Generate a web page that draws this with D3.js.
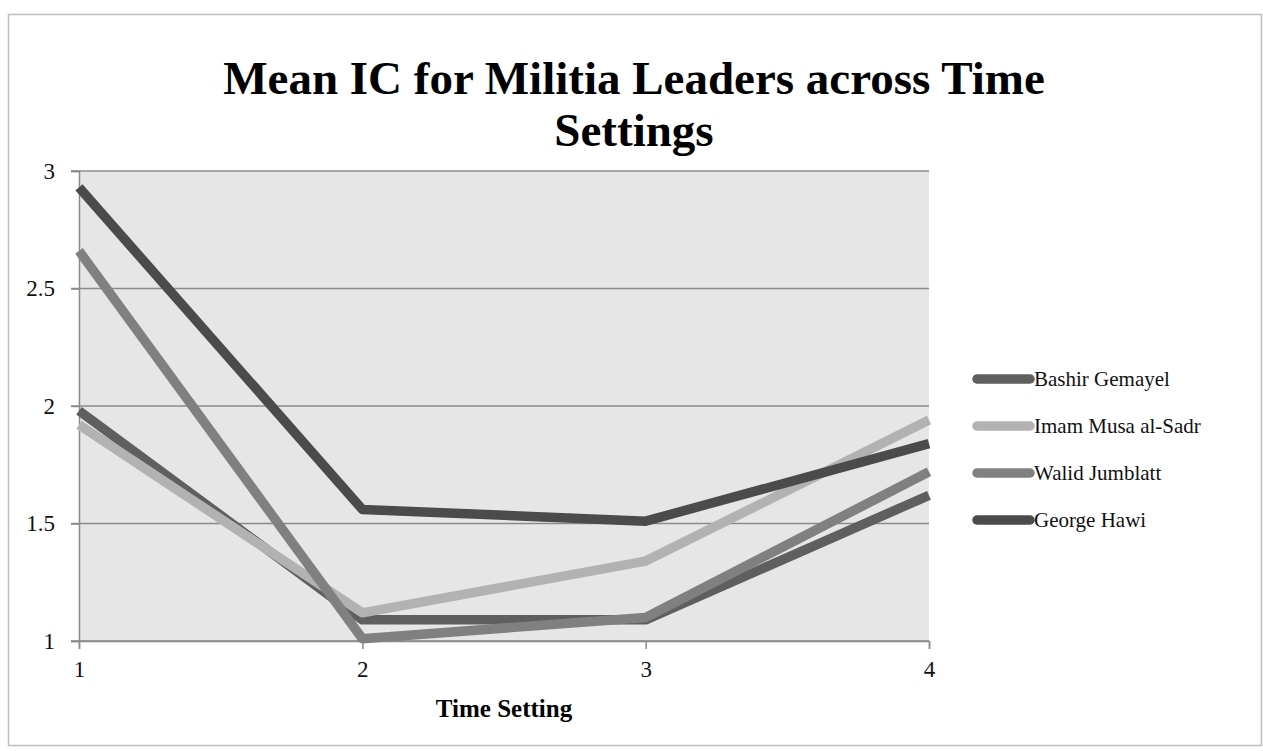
<!DOCTYPE html>
<html>
<head>
<meta charset="utf-8">
<script src="https://cdn.jsdelivr.net/npm/d3@7"></script>
<style>
  body { margin: 0; background: #fff; }
  svg { display: block; font-family: "Liberation Serif", "DejaVu Serif", serif; }
</style>
</head>
<body>
<svg id="chart" width="1263" height="751"></svg>
<script>
// Chart values
const timeSettings = [1, 2, 3, 4];
const leaders = ['Bashir Gemayel', 'Imam Musa al-Sadr', 'Walid Jumblatt', 'George Hawi'];
const bashirGemayel = [1.98, 1.09, 1.09, 1.62];
const imamMusaAlSadr = [1.92, 1.12, 1.34, 1.94];
const walidJumblatt = [2.66, 1.01, 1.10, 1.72];
const georgeHawi = [2.93, 1.56, 1.51, 1.84];
const yTicks = [1, 1.5, 2, 2.5, 3];
const lineColors = ['#5f5f5f', '#b2b2b2', '#808080', '#4b4b4b'];

const seriesValues = [bashirGemayel, imamMusaAlSadr, walidJumblatt, georgeHawi];
const series = leaders.map((name, i) => ({
	name,
	color: lineColors[i],
	values: timeSettings.map((t, j) => ({ t, v: seriesValues[i][j] }))
}));

const svg = d3.select('#chart');
const plot = { left: 79, right: 929, top: 171, bottom: 641 };

// Outer chart border
svg.append('rect')
	.attr('x', 8.5).attr('y', 14.5)
	.attr('width', 1253).attr('height', 731)
	.attr('fill', '#fff')
	.attr('stroke', '#bdbdbd')
	.attr('stroke-width', 1.5);

const xScale = d3.scaleLinear().domain([1, 4]).range([plot.left, plot.right]);
const yScale = d3.scaleLinear().domain([1, 3]).range([plot.bottom, plot.top]);

// Plot background
svg.append('rect')
	.attr('x', plot.left).attr('y', plot.top)
	.attr('width', plot.right - plot.left)
	.attr('height', plot.bottom - plot.top)
	.attr('fill', '#e6e6e6');

// Gridlines
svg.append('g')
	.selectAll('line')
	.data(yTicks)
	.join('line')
	.attr('x1', plot.left - 8).attr('x2', plot.right)
	.attr('y1', (d) => yScale(d)).attr('y2', (d) => yScale(d))
	.attr('stroke', '#8a8a8a')
	.attr('stroke-width', 1.5);

// Y axis
const yAxis = svg.append('g')
	.attr('transform', `translate(${plot.left},0)`)
	.call(d3.axisLeft(yScale).tickValues(yTicks).tickSize(8).tickPadding(16)
		.tickFormat((d) => d3.format('')(d)));
yAxis.select('.domain').attr('stroke', '#8a8a8a').attr('stroke-width', 1.5);
yAxis.selectAll('.tick line').attr('stroke', '#8a8a8a').attr('stroke-width', 1.5);
yAxis.selectAll('.tick text')
	.attr('font-size', 23).attr('fill', '#111')
	.attr('font-family', '"Liberation Serif", serif');

// X axis
const xAxis = svg.append('g')
	.attr('transform', `translate(0,${plot.bottom})`)
	.call(d3.axisBottom(xScale).tickValues(timeSettings).tickSize(8).tickPadding(12)
		.tickFormat(d3.format('d')));
xAxis.select('.domain').attr('stroke', '#8a8a8a').attr('stroke-width', 1.5);
xAxis.selectAll('.tick line').attr('stroke', '#8a8a8a').attr('stroke-width', 1.5);
xAxis.selectAll('.tick text')
	.attr('font-size', 23).attr('fill', '#111')
	.attr('font-family', '"Liberation Serif", serif');

// Lines
const line = d3.line()
	.x((d) => xScale(d.t))
	.y((d) => yScale(d.v));

svg.append('g')
	.selectAll('path')
	.data(series)
	.join('path')
	.attr('d', (d) => line(d.values))
	.attr('fill', 'none')
	.attr('stroke', (d) => d.color)
	.attr('stroke-width', 9.5)
	.attr('stroke-linejoin', 'round')
	.attr('stroke-linecap', 'butt');

// Title
const title = svg.append('text')
	.attr('text-anchor', 'middle')
	.attr('font-size', 47)
	.attr('font-weight', 'bold')
	.attr('fill', '#000');
title.append('tspan').attr('x', 634).attr('y', 94).text('Mean IC for Militia Leaders across Time');
title.append('tspan').attr('x', 634).attr('y', 146).text('Settings');

// Axis title
svg.append('text')
	.attr('x', 504).attr('y', 717)
	.attr('text-anchor', 'middle')
	.attr('font-size', 25)
	.attr('font-weight', 'bold')
	.text('Time Setting');

// Legend
const legend = svg.append('g')
	.selectAll('g')
	.data(series)
	.join('g')
	.attr('transform', (d, i) => `translate(972,${379 + i * 47})`);
legend.append('line')
	.attr('x1', 5).attr('x2', 58)
	.attr('stroke', (d) => d.color)
	.attr('stroke-width', 9.5)
	.attr('stroke-linecap', 'round');
legend.append('text')
	.attr('x', 62).attr('y', 7)
	.attr('font-size', 21)
	.attr('fill', '#111')
	.text((d) => d.name);
</script>
</body>
</html>
